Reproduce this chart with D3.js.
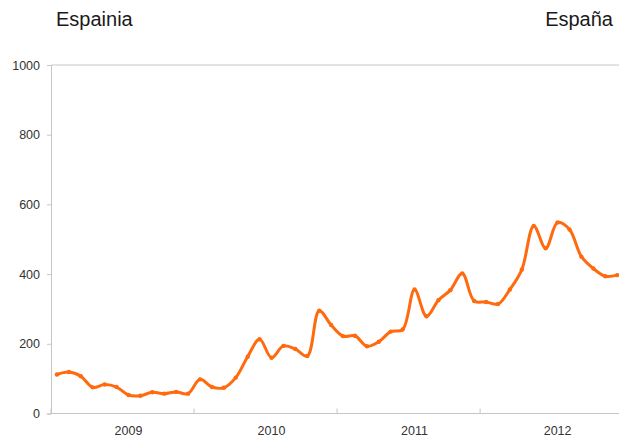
<!DOCTYPE html>
<html>
<head>
<meta charset="utf-8">
<script src="https://cdn.jsdelivr.net/npm/d3@7"></script>
<style>
  html, body { margin: 0; padding: 0; background: #fff; }
  svg { display: block; font-family: "Liberation Sans", Arial, sans-serif; }
</style>
</head>
<body>
<svg id="chart" width="619" height="439"></svg>
<script>
// ---- data ----
const titleLeft = "Espainia";
const titleRight = "España";
const months = d3.range(48); // monthly observations 2009–2012
const values = [112,119,107,75,83,76,53,51,61,57,62,57,
                98,76,74,103,163,213,160,194,185,165,295,254,
                222,223,193,206,235,241,356,279,325,354,402,323,
                320,314,356,413,538,474,548,528,450,416,394,397];
const yearLabels = ["2009","2010","2011","2012"];
const yTicks = [0,200,400,600,800,1000];

// ---- layout ----
const svg = d3.select("#chart");
const plotLeft = 51, plotTop = 65, plotBottom = 413.5;
const band = 11.92;
const x = d3.scaleBand().domain(months).range([plotLeft, plotLeft + band * months.length]).padding(0);
const y = d3.scaleLinear().domain([0, 1000]).range([plotBottom, plotTop]);
const axisColor = "#c6c6c6";
const orange = "#ff6a0e";

// titles
svg.append("text").attr("x", 56).attr("y", 26).attr("font-size", 20).attr("fill", "#1a1a1a").text(titleLeft);
svg.append("text").attr("x", 613).attr("y", 26).attr("text-anchor", "end").attr("font-size", 20).attr("fill", "#1a1a1a").text(titleRight);

// top border line (1000)
svg.append("line").attr("x1", plotLeft).attr("x2", 619).attr("y1", y(1000)).attr("y2", y(1000))
  .attr("stroke", axisColor).attr("stroke-width", 1);

// y axis
const yAxis = d3.axisLeft(y).tickValues(yTicks).tickSize(4).tickPadding(7).tickFormat(d3.format("d"));
const gy = svg.append("g").attr("transform", `translate(${plotLeft},0)`).call(yAxis);
gy.select(".domain").attr("stroke", axisColor);
gy.selectAll(".tick line").attr("stroke", axisColor);
gy.selectAll(".tick text").attr("font-size", 12.5).attr("fill", "#333").attr("font-family", "Liberation Sans, Arial, sans-serif");

// x axis line
svg.append("line").attr("x1", plotLeft).attr("x2", 619).attr("y1", plotBottom).attr("y2", plotBottom)
  .attr("stroke", axisColor).attr("stroke-width", 1);
// year boundary ticks (inward)
const boundaries = months.filter(m => m % 12 === 0).map(m => x(m));
svg.selectAll(".xtick").data(boundaries).enter().append("line")
  .attr("x1", d => d).attr("x2", d => d).attr("y1", plotBottom - 5).attr("y2", plotBottom)
  .attr("stroke", axisColor);
// year labels centred on July of each year
svg.selectAll(".xlab").data(yearLabels).enter().append("text")
  .attr("x", (d, i) => x(i * 12 + 6) + x.bandwidth() / 2)
  .attr("y", 435).attr("text-anchor", "middle").attr("font-size", 12.5).attr("fill", "#333")
  .text(d => d);

// line
const cx = i => x(i) + x.bandwidth() / 2;
const line = d3.line().x((d, i) => cx(i)).y(d => y(d)).curve(d3.curveCatmullRom.alpha(0.5));
svg.append("path").datum(values).attr("d", line)
  .attr("fill", "none").attr("stroke", orange).attr("stroke-width", 3)
  .attr("stroke-linejoin", "round").attr("stroke-linecap", "round");
svg.selectAll(".pt").data(values).enter().append("circle")
  .attr("cx", (d, i) => cx(i)).attr("cy", d => y(d)).attr("r", 2.2).attr("fill", orange);
</script>
</body>
</html>
